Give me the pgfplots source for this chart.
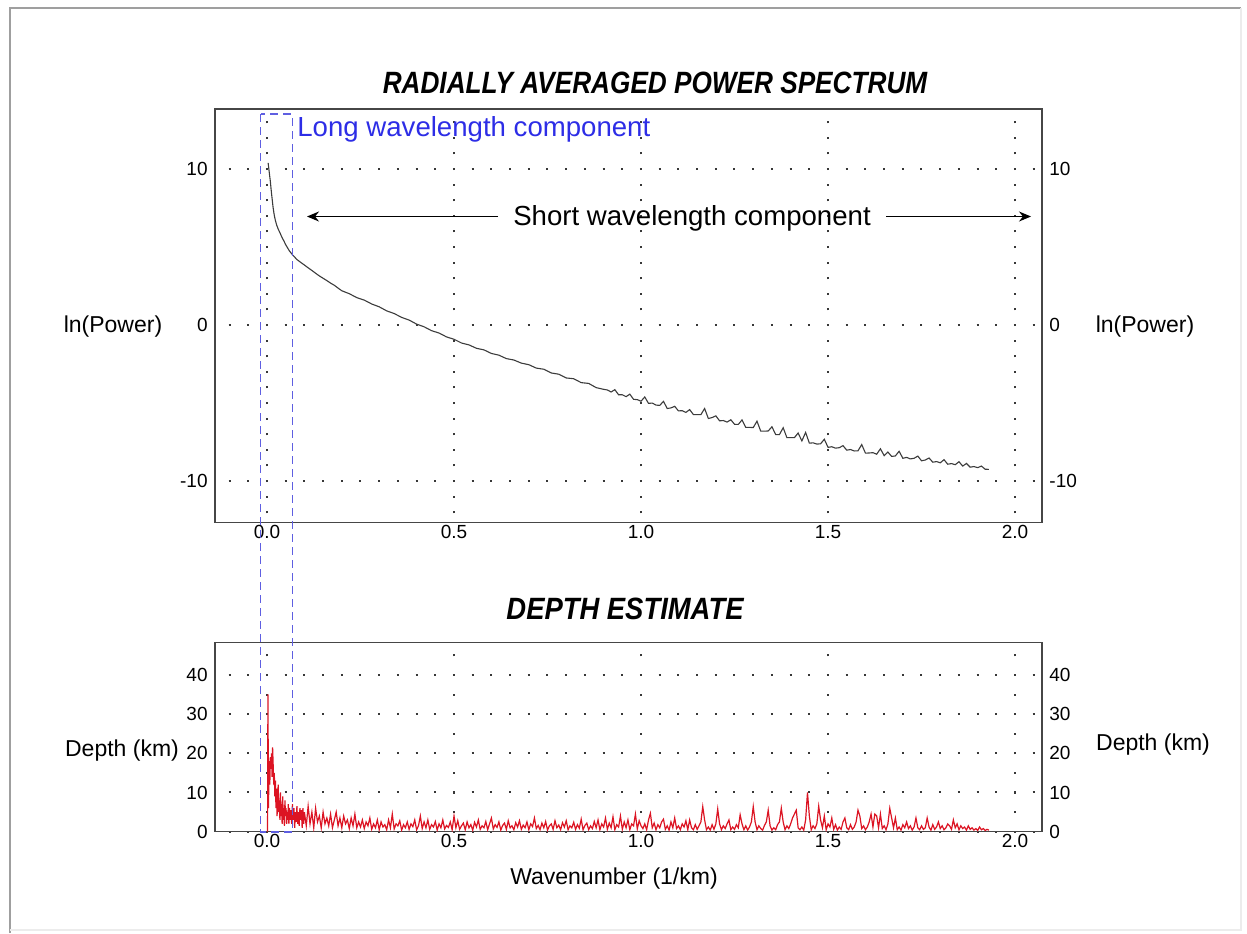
\documentclass[border=0pt]{standalone}
\usepackage{pgfplots}
\pgfplotsset{compat=1.18}
\usepackage{fontspec}
\setmainfont{Liberation Sans}
\usepackage{graphicx}
\usetikzlibrary{arrows.meta}
\definecolor{gridc}{RGB}{55,55,55}
\definecolor{axc}{RGB}{70,70,70}
\definecolor{blu}{RGB}{45,45,230}
\definecolor{blud}{RGB}{95,95,225}
\definecolor{redc}{RGB}{220,20,35}
\definecolor{curvec}{RGB}{60,60,60}
\pgfplotsset{
  base/.style={
    scale only axis, width=413.5pt,
    xmin=-0.139, xmax=2.072,
    axis line style={axc, line width=0.75pt},
    major tick length=0pt, minor tick length=0pt,
    xtick={0,0.5,1,1.5,2}, xticklabels={0.0,0.5,1.0,1.5,2.0},
    tick label style={font=\fontsize{9.5}{10}\selectfont},
    /pgf/number format/assume math mode=true,
    xticklabel style={inner sep=1pt},
    yticklabel style={inner sep=3.5pt},
  },
  ygrid/.style={y grid style={gridc, line width=1pt, dash pattern=on 1pt off 8.35pt, dash phase=2.557pt}},
}
\begin{document}
\begin{tikzpicture}
\path[use as bounding box] (0,0) rectangle (623.5pt,-466.5pt);
% ---------- top axis ----------
\begin{axis}[base, at={(107.5pt,-54.5pt)}, anchor=north west, height=206.85pt,
  ymin=-12.67, ymax=13.85, ytick={-10,0,10},
  xmajorgrids, ymajorgrids, ygrid,
  x grid style={gridc, line width=1pt, dash pattern=on 1pt off 6.8pt, dash phase=3.074pt}]
\addplot[curvec, line width=0.55pt] table {
0.003 10.4
0.005 10.0
0.007 9.6
0.009 9.2
0.011 8.7
0.013 8.25
0.016 7.6
0.019 7.1
0.022 6.75
0.026 6.4
0.030 6.15
0.035 5.9
0.040 5.62
0.045 5.4
0.050 5.15
0.055 4.95
0.060 4.75
0.065 4.6
0.070 4.45
0.075 4.33
0.080 4.2
0.09 4.02
0.10 3.85
0.11 3.67
0.12 3.5
0.13 3.32
0.14 3.15
0.15 3.0
0.16 2.85
0.17 2.69
0.18 2.55
0.19 2.37
0.20 2.20
0.22 2.01
0.24 1.76
0.26 1.60
0.28 1.35
0.30 1.17
0.32 0.91
0.34 0.74
0.36 0.49
0.38 0.32
0.40 0.06
0.42 -0.11
0.44 -0.36
0.46 -0.51
0.48 -0.76
0.50 -0.91
0.52 -1.15
0.54 -1.27
0.56 -1.49
0.58 -1.59
0.60 -1.82
0.62 -1.93
0.64 -2.15
0.66 -2.24
0.68 -2.44
0.70 -2.54
0.72 -2.76
0.74 -2.83
0.76 -3.07
0.78 -3.15
0.80 -3.39
0.82 -3.44
0.84 -3.69
0.86 -3.74
0.88 -4.01
0.90 -4.12
0.91 -4.16
0.92 -4.29
0.93 -4.14
0.94 -4.47
0.95 -4.47
0.96 -4.59
0.97 -4.43
0.98 -4.76
0.99 -4.78
1.00 -4.88
1.01 -4.61
1.02 -5.02
1.03 -5.00
1.04 -5.13
1.05 -5.15
1.06 -4.89
1.07 -5.35
1.08 -5.31
1.09 -5.21
1.10 -5.50
1.11 -5.49
1.12 -5.60
1.13 -5.42
1.14 -5.74
1.15 -5.74
1.16 -5.74
1.17 -5.35
1.18 -5.99
1.19 -5.93
1.20 -5.82
1.21 -6.14
1.22 -6.12
1.23 -6.22
1.24 -6.07
1.25 -6.36
1.26 -6.37
1.27 -6.08
1.28 -6.56
1.29 -6.56
1.30 -6.57
1.31 -6.16
1.32 -6.80
1.33 -6.80
1.34 -6.79
1.35 -6.52
1.36 -7.02
1.37 -7.02
1.38 -6.58
1.39 -7.22
1.40 -7.22
1.41 -7.22
1.42 -6.92
1.43 -7.43
1.44 -6.88
1.45 -7.57
1.46 -7.55
1.47 -7.63
1.48 -7.61
1.49 -7.32
1.50 -7.84
1.51 -7.80
1.52 -7.89
1.53 -7.86
1.54 -7.73
1.55 -8.02
1.56 -7.98
1.57 -8.07
1.58 -8.06
1.59 -7.66
1.60 -8.21
1.61 -8.20
1.62 -8.18
1.63 -8.28
1.64 -7.93
1.65 -8.37
1.66 -8.14
1.67 -8.42
1.68 -8.39
1.69 -8.09
1.70 -8.54
1.71 -8.48
1.72 -8.58
1.73 -8.54
1.74 -8.40
1.75 -8.70
1.76 -8.65
1.77 -8.52
1.78 -8.79
1.79 -8.75
1.80 -8.83
1.81 -8.63
1.82 -8.92
1.83 -8.88
1.84 -8.95
1.85 -8.76
1.86 -9.04
1.87 -8.87
1.88 -9.11
1.89 -9.07
1.90 -9.14
1.91 -9.04
1.92 -9.24
1.93 -9.25
};
\end{axis}
\begin{axis}[base, at={(107.5pt,-54.5pt)}, anchor=north west, height=206.85pt,
  ymin=-12.67, ymax=13.85, ytick={-10,0,10},
  hide x axis, axis y line*=right]
\end{axis}
% ---------- bottom axis ----------
\begin{axis}[base, at={(107.5pt,-321.15pt)}, anchor=north west, height=94.7pt,
  ymin=0, ymax=48.3, ytick={0,10,20,30,40},
  xmajorgrids, ymajorgrids, ygrid,
  x grid style={gridc, line width=1pt, dash pattern=on 1pt off 8.8pt, dash phase=0.5pt}]
\addplot[redc, line width=0.6pt] table {
0.0015 0
0.0025 35
0.0040 6
0.0050 14
0.0060 18
0.0075 12
0.0090 19
0.0105 16
0.0120 20
0.0135 14
0.0150 21.5
0.0165 17
0.0180 12
0.0195 15
0.0210 9
0.0225 13
0.0240 6
0.0255 11
0.0270 4
0.0285 9
0.0300 12
0.0315 5
0.0330 8
0.0345 3
0.0360 10
0.0375 4
0.0390 7
0.0405 2
0.0420 9
0.0435 3
0.0450 6
0.0465 1.5
0.0480 8
0.0495 4
0.0510 6
0.0525 2
0.0540 5
0.0555 3
0.0570 7
0.0585 2
0.0600 6
0.0620 3
0.0640 5.5
0.0660 2
0.0680 7
0.0700 3
0.0720 6
0.0740 1
0.0760 5
0.0780 2.5
0.0800 6.5
0.0820 2
0.0840 5
0.0860 1.5
0.0880 6
0.0900 3
0.0920 5.5
0.0940 1
0.0960 6
0.0980 2
0.1000 5
0.105 1.5
0.110 6.5
0.115 2
0.120 5
0.125 1
0.130 6
0.135 2.5
0.140 4
0.145 1
0.150 5
0.155 2
0.160 3.5
0.165 1.5
0.170 4.5
0.175 1
0.180 3
0.185 5
0.190 1.5
0.195 3.5
0.200 1
0.205 4
0.210 2
0.215 3
0.220 0.8
0.225 3.5
0.230 1.5
0.235 4.5
0.240 1
0.245 2.5
0.250 1.2
0.255 3
0.260 0.8
0.265 2.5
0.270 1.5
0.275 3.5
0.280 0.6
0.285 2
0.290 1
0.295 3
0.300 0.5
0.305 2.5
0.310 1.2
0.315 1.8
0.320 0.5
0.325 3
0.330 1
0.335 4.5
0.340 0.7
0.345 2
0.350 1.5
0.355 2.8
0.360 0.4
0.365 1.8
0.370 1
0.375 2.5
0.380 0.6
0.385 2
0.390 1.3
0.395 3
0.400 0.5
0.405 1.5
0.410 4
0.415 0.8
0.420 2.5
0.425 1
0.430 3
0.435 0.6
0.440 1.8
0.445 1.2
0.450 2.6
0.455 0.4
0.460 2
0.465 1
0.470 3
0.475 0.7
0.480 1.6
0.485 1.1
0.490 2.5
0.495 0.5
0.500 4
0.505 1
0.510 2.8
0.515 0.6
0.520 1.5
0.525 2.2
0.530 0.5
0.535 2.5
0.540 1
0.545 1.8
0.550 0.4
0.555 2.4
0.560 1.2
0.565 3
0.570 0.6
0.575 1.5
0.580 1
0.585 2.6
0.590 0.5
0.595 2
0.600 3.5
0.605 0.7
0.610 1.8
0.615 1.1
0.620 2.5
0.625 0.4
0.630 1.6
0.635 2.2
0.640 0.6
0.645 2.8
0.650 1
0.655 1.5
0.660 0.5
0.665 2.3
0.670 1.2
0.675 2.8
0.680 0.6
0.685 1.7
0.690 1
0.695 2.5
0.700 0.5
0.705 2
0.710 1.3
0.715 3.5
0.720 0.8
0.725 1.6
0.730 0.5
0.735 2.2
0.740 1
0.745 2.6
0.750 0.4
0.755 1.5
0.760 2
0.765 0.6
0.770 2.8
0.775 1
0.780 1.7
0.785 0.5
0.790 2.3
0.795 1.2
0.800 2.8
0.805 0.5
0.810 1.5
0.815 1
0.820 2.4
0.825 0.6
0.830 1.8
0.835 0.9
0.840 3.2
0.845 0.5
0.850 1.6
0.855 2.2
0.860 0.5
0.865 1.5
0.870 0.8
0.875 2.6
0.880 1
0.885 3
0.890 0.5
0.895 2
0.900 1.2
0.905 3.5
0.910 0.6
0.915 2.2
0.920 1
0.925 3.8
0.930 0.5
0.935 1.8
0.940 1.2
0.945 4
0.950 0.6
0.955 2.5
0.960 1
0.965 3
0.970 0.5
0.975 2
0.980 1.5
0.985 4.5
0.990 0.7
0.995 2.8
1.000 1.5
1.005 0.8
1.010 2
1.015 0.5
1.020 3
1.025 4.7
1.030 1
1.035 2.2
1.040 0.5
1.045 1.8
1.050 1
1.055 2.5
1.060 3.2
1.065 0.6
1.070 1.5
1.075 0.4
1.080 2.5
1.085 1
1.090 3.5
1.095 0.8
1.100 1.5
1.105 0.5
1.110 2
1.115 1.2
1.120 2.8
1.125 0.5
1.130 3
1.135 1
1.140 0.5
1.145 1.8
1.150 0.6
1.155 1.5
1.160 2.5
1.165 6.4
1.170 3
1.175 0.5
1.180 1.2
1.185 0.4
1.190 1.8
1.195 0.6
1.200 2
1.205 5.8
1.210 2
1.215 0.5
1.220 1.5
1.225 0.8
1.230 2
1.235 3
1.240 0.5
1.245 1.2
1.250 0.6
1.255 1.8
1.260 1
1.265 4.3
1.270 2
1.275 0.5
1.280 1.5
1.285 0.4
1.290 1.2
1.295 2.5
1.300 6.4
1.305 2.5
1.310 0.5
1.315 1.5
1.320 0.8
1.325 0.4
1.330 1.6
1.335 2.5
1.340 5.5
1.345 1.5
1.350 0.4
1.355 1
1.360 0.5
1.365 1.8
1.370 2.5
1.375 6
1.380 2.5
1.385 0.5
1.390 1.5
1.395 0.8
1.400 2
1.405 3.5
1.410 4.5
1.415 5.5
1.420 1
1.425 0.5
1.430 1.2
1.435 0.4
1.440 3
1.445 10
1.450 4
1.455 0.5
1.460 1.5
1.465 0.8
1.470 2
1.475 6.5
1.480 3
1.485 1
1.490 4
1.495 0.5
1.500 2
1.505 1.2
1.510 3.5
1.515 0.6
1.520 1.8
1.525 0.4
1.530 1.2
1.535 0.6
1.540 2.5
1.545 3.5
1.550 1
1.555 0.5
1.560 1.8
1.565 0.6
1.570 1.2
1.575 2.5
1.580 5.5
1.585 4
1.590 0.8
1.595 1.5
1.600 0.5
1.605 1.2
1.610 2.5
1.615 4.5
1.620 1.2
1.625 4.5
1.630 4
1.635 1
1.640 4.5
1.645 0.8
1.650 1.5
1.655 0.5
1.660 2
1.665 6
1.670 3.5
1.675 1
1.680 3.5
1.685 0.5
1.690 1.2
1.695 0.4
1.700 1.8
1.705 1
1.710 2.5
1.715 0.8
1.720 1.5
1.725 0.4
1.730 1.2
1.735 3.5
1.740 1
1.745 0.5
1.750 1.5
1.755 0.6
1.760 1
1.765 3.5
1.770 1.2
1.775 0.4
1.780 1.8
1.785 0.6
1.790 1.2
1.795 2.5
1.800 0.8
1.805 1.5
1.810 0.5
1.815 1
1.820 2
1.825 1.5
1.830 0.6
1.835 3
1.840 1
1.845 2
1.850 0.5
1.855 1.5
1.860 0.8
1.865 1.2
1.870 0.4
1.875 1.5
1.880 0.6
1.885 1
1.890 0.4
1.895 0.8
1.900 0.3
1.905 1.2
1.910 0.5
1.915 0.8
1.920 0.3
1.925 0.6
1.930 0.4
};
\end{axis}
\begin{axis}[base, at={(107.5pt,-321.15pt)}, anchor=north west, height=94.7pt,
  ymin=0, ymax=48.3, ytick={0,10,20,30,40},
  hide x axis, axis y line*=right]
\end{axis}
% ---------- annotations (1 unit = 1 px of the reference) ----------
\begin{scope}[x=0.5pt, y=-0.5pt]
\draw[gray!75, line width=0.8pt] (10,933) -- (10,8) -- (1241,8);
\draw[gray!15, line width=0.6pt] (1241,8) -- (1241,930) -- (10,930);
\node[font=\fontsize{15.4}{17}\selectfont\bfseries\itshape] at (655,83) {\scalebox{0.85}[1]{RADIALLY AVERAGED POWER SPECTRUM}};
\node[font=\fontsize{15.4}{17}\selectfont\bfseries\itshape] at (625,609) {\scalebox{0.89}[1]{DEPTH ESTIMATE}};
\node[font=\fontsize{11.5}{13}\selectfont] at (113,327) {ln(Power)};
\node[font=\fontsize{11.5}{13}\selectfont] at (1145,327) {ln(Power)};
\node[font=\fontsize{11.5}{13}\selectfont] at (122,751) {Depth (km)};
\node[font=\fontsize{11.5}{13}\selectfont] at (1153,745) {Depth (km)};
\node[font=\fontsize{11.5}{13}\selectfont] at (614,879) {Wavenumber (1/km)};
\node[font=\fontsize{13.8}{15}\selectfont, text=blu, anchor=base west, inner sep=0pt] at (297,136) {Long wavelength component};
\node[font=\fontsize{13.8}{15}\selectfont, anchor=base, inner sep=0pt] at (692,225) {Short wavelength component};
\draw[line width=0.6pt, -{Stealth[length=6pt, width=5pt]}] (498,216.5) -- (307,216.5);
\draw[line width=0.6pt, -{Stealth[length=6pt, width=5pt]}] (886,216.5) -- (1031,216.5);
\draw[blud, line width=0.55pt, dash pattern=on 4pt off 2.5pt] (260.7,114) rectangle (292.3,832);
\end{scope}
\end{tikzpicture}
\end{document}
